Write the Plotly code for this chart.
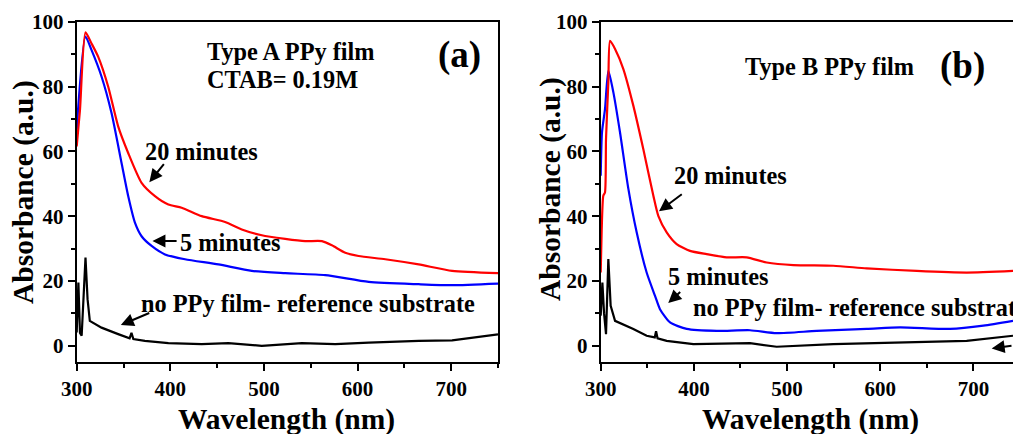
import plotly.graph_objects as go

# ---------------- Panel (a) data ----------------
a_red_x = [300, 303.5, 309.4, 315.8, 322.9, 333.6, 344.3, 355, 369.3, 383.6, 397.9, 412.1, 433.5,
           458.5, 476.3, 497.7, 522.7, 544, 561.9, 572.6, 586.9, 601.1, 629.6, 665.3, 701, 750]
a_red_y = [61.5, 72.8, 96.7, 93.3, 89.2, 80, 67.7, 59.5, 50.3, 46.2, 43.6, 42.6, 40,
           38.2, 35.9, 34.1, 33, 32.3, 32.3, 31, 28.7, 27.7, 26.7, 25.1, 23.1, 22.4]

a_blue_x = [300, 309.4, 315.8, 326.5, 337.2, 347.9, 355, 362.2, 369.3, 380, 394.3, 415.7, 451.4,
            487, 522.7, 565.5, 611.9, 665.3, 701, 750]
a_blue_y = [66.7, 95.4, 91.3, 83.1, 71.8, 56.4, 46.2, 38, 33.8, 30.8, 28.2, 26.7, 25.1,
            23.1, 22.4, 21.8, 19.7, 19, 18.7, 19.2]

a_black_x = [300, 301.8, 303.5, 305.3, 309.4, 311.6, 314, 326.5, 344.3, 356.5, 358.5, 360.5, 372.8,
             397.9, 433.5, 462, 497.7, 540.5, 576.2, 612, 665.3, 701, 750]
a_black_y = [4.1, 19.5, 4, 3.1, 27.2, 14.4, 7.7, 5.6, 3.6, 2.3, 4.0, 2.1, 1.5,
             0.8, 0.5, 0.8, 0, 0.8, 0.5, 1.0, 1.5, 1.7, 3.5]

# ---------------- Panel (b) data ----------------
b_red_x = [300, 301, 302.8, 304.6, 305.7, 308.2, 310, 315.4, 324.3, 335, 345.7, 356.5, 361.8,
           370.8, 381.5, 395.8, 413.7, 435.2, 456.6, 478.1, 506.7, 549.6, 585.4, 639.1, 692.7, 742.4]
b_red_y = [22.6, 35, 46.3, 47.3, 63.8, 81.3, 94.1, 91.6, 85.4, 74.1, 60.7, 46.3, 40.1,
           35, 31.4, 29.3, 28.3, 27.3, 27.3, 25.7, 24.9, 24.7, 23.9, 23.1, 22.6, 23.1]

b_blue_x = [300, 301.4, 304.6, 308.2, 313.6, 320.7, 329.7, 338.6, 349.3, 358.3, 363.6, 374.4, 392.3,
            424.5, 460.2, 488.8, 531.7, 585.4, 621.2, 674.9, 710.6, 742.4]
b_blue_y = [52.5, 65.9, 73, 84.9, 78.2, 65.9, 48.4, 35, 22.6, 15.4, 11.3, 7.2, 5.2,
            4.6, 4.8, 3.9, 4.6, 5.2, 5.7, 5.2, 6.2, 7.7]

b_black_x = [300, 301.8, 303.6, 305.7, 308.2, 310.7, 315.4, 335, 349.3, 358, 359.4, 361, 370.8,
             399.4, 460.2, 488.8, 549.6, 621.2, 692.7, 742.4]
b_black_y = [9.3, 19.5, 10, 3.6, 26.8, 12.3, 7.7, 5.2, 3.1, 2.6, 4.5, 2.3, 1.5,
             0.5, 0.8, -0.3, 0.5, 1.0, 1.5, 3.1]

x_ticks = [300, 400, 500, 600, 700]
y_ticks = [0, 20, 40, 60, 80, 100]

RED, BLUE, BLACK = "#ff0000", "#0000ff", "#000000"
FONT = "Liberation Serif"

fig = go.Figure()

def add(x, y, color, xa, ya, smooth):
    line = dict(color=color, width=2.2)
    if smooth:
        line.update(shape="spline", smoothing=0.6)
    fig.add_trace(go.Scatter(x=x, y=y, mode="lines", line=line,
                             xaxis=xa, yaxis=ya, showlegend=False, hoverinfo="skip"))

add(a_black_x, a_black_y, BLACK, "x", "y", False)
add(a_blue_x, a_blue_y, BLUE, "x", "y", True)
add(a_red_x, a_red_y, RED, "x", "y", True)
add(b_black_x, b_black_y, BLACK, "x2", "y2", False)
add(b_blue_x, b_blue_y, BLUE, "x2", "y2", True)
add(b_red_x, b_red_y, RED, "x2", "y2", True)

tickfont = dict(family=FONT, size=21, color="black", weight="bold")

def xaxis(domain, rng, anchor):
    return dict(domain=domain, range=rng, anchor=anchor, tickmode="array", tickvals=x_ticks,
                ticks="outside", ticklen=7, tickwidth=2, tickcolor="black",
                showline=True, linewidth=2, linecolor="black", mirror=True,
                showgrid=False, zeroline=False, tickfont=tickfont, automargin=False,
                minor=dict(tickvals=[350, 450, 550, 650, 750], ticks="outside", ticklen=4,
                           tickwidth=2, tickcolor="black"))

def yaxis(domain, anchor, mirror):
    return dict(domain=domain, range=[-5, 100], anchor=anchor, tickmode="array", tickvals=y_ticks,
                ticks="outside", ticklen=7, tickwidth=2, tickcolor="black",
                showline=True, linewidth=2, linecolor="black", mirror=mirror,
                showgrid=False, zeroline=False, tickfont=tickfont, automargin=False,
                minor=dict(tickvals=[-10, 10, 30, 50, 70, 90], ticks="outside", ticklen=4,
                           tickwidth=2, tickcolor="black"))

ydom = [1 - 362 / 434, 1 - 21.7 / 434]
fig.update_layout(
    width=1013, height=434,
    margin=dict(l=0, r=0, t=0, b=0, autoexpand=False),
    paper_bgcolor="white", plot_bgcolor="white",
    xaxis=xaxis([76.7 / 1013, 498 / 1013], [300, 750], "y"),
    yaxis=yaxis(ydom, "x", True),
    xaxis2=xaxis([600.7 / 1013, 1.0], [300, 742.4], "y2"),
    yaxis2=yaxis(ydom, "x2", False),
)

def text(t, x, y, xr, yr, size=24.3, xanchor="left"):
    fig.add_annotation(text=t, x=x, y=y, xref=xr, yref=yr, showarrow=False,
                       xanchor=xanchor, yanchor="middle",
                       font=dict(family=FONT, size=size, color="black", weight="bold"))

def arrow(tx, ty, hx, hy, xr, yr):
    fig.add_annotation(text="", x=hx, y=hy, ax=tx, ay=ty, xref=xr, yref=yr, axref=xr, ayref=yr,
                       showarrow=True, arrowhead=2, arrowsize=1.3, arrowwidth=2,
                       arrowcolor="black", standoff=0)

# Panel (a) labels
text("Type A PPy film", 437.2, 90.7, "x", "y")
text("CTAB= 0.19M", 437.2, 82.1, "x", "y")
text("(a)", 709.4, 89.8, "x", "y", size=37, xanchor="center")
text("20 minutes", 370.9, 59.9, "x", "y")
text("5 minutes", 408.5, 32.0, "x", "y")
text("no PPy film- reference substrate", 367, 13.0, "x", "y")
arrow(394.4, 56.5, 377.6, 50.5, "x", "y")
arrow(408.3, 32.3, 380.9, 32.3, "x", "y")
arrow(379.1, 10.3, 347.1, 6.4, "x", "y")

# Panel (b) labels
text("Type B PPy film", 452.7, 86.3, "x2", "y2")
text("(b)", 687.7, 86.3, "x2", "y2", size=37, xanchor="center")
text("20 minutes", 376.5, 52.4, "x2", "y2")
text("5 minutes", 370.0, 21.5, "x2", "y2")
text("no PPy film- reference substrate", 396.5, 11.9, "x2", "y2")
arrow(388.6, 47.1, 362.6, 41.5, "x2", "y2")
arrow(386.9, 17.0, 372.5, 13.2, "x2", "y2")
arrow(742.4, 0.1, 719.5, -0.8, "x2", "y2")

# Axis titles
def ptext(t, px, py, size=29.5, angle=0):
    fig.add_annotation(text=t, x=px / 1013, y=1 - py / 434, xref="paper", yref="paper",
                       showarrow=False, xanchor="center", yanchor="middle", textangle=angle,
                       font=dict(family=FONT, size=size, color="black", weight="bold"))

ptext("Wavelength (nm)", 286, 419)
ptext("Wavelength (nm)", 810, 419)
ptext("Absorbance (a.u.)", 23, 192, angle=-90)
ptext("Absorbance (a.u.)", 550, 189, angle=-90)

fig.write_html("out.html")
